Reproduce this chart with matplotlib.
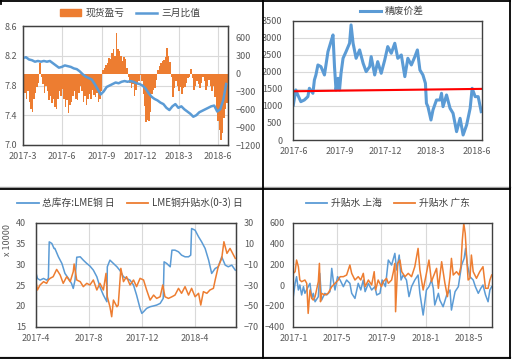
import matplotlib
matplotlib.use('Agg')
import matplotlib.pyplot as plt
import matplotlib.dates as mdates
import matplotlib.transforms as mtransforms
from matplotlib.ticker import FuncFormatter
from matplotlib.lines import Line2D
from matplotlib.patches import Patch
import pandas as pd

plt.rcParams['font.family'] = ['Noto Sans CJK SC', 'DejaVu Sans']

BLUE = '#5B9BD5'
ORANGE = '#ED7D31'
RED = '#FF0000'
GRID = '#D9D9D9'
TICK = '#595959'
SPINE = '#404040'

# ---------------- Panel 1: 现货盈亏 (bars, right axis, every 3.5 days) / 三月比值 (line, left axis, weekly)
p1_start = '2017-03-01'
p1_spot_pnl = [-200, -330, -420, -300, -480, -600, -640, -420, -320, -230,
               -150, 180, -60, -180, -320, -200, -300, -450, -380, -500,
               -420, -560, -600, -420, -300, -380, -260, -420, -560, -450,
               -670, -520, -480, -380, -300, -420, -450, -330, -200, -300,
               -480, -380, -520, -420, -350, -430, -280, -360, -400, -320,
               -480, -420, -300, 60, 100, 150, 180, 260, 250, 340,
               420, 300, 680, 420, 380, 300, 220, 280, 240, 100,
               -60, -150, -250, -180, -380, -280, -180, -120, -30, -120,
               -350, -550, -820, -780, -800, -650, -350, -280, -250, -100,
               60, 120, 180, 220, 230, 280, 430, 300, 200, -50,
               -400, -250, -120, -200, -300, -220, -350, -250, -220, -160,
               -80, -60, 70, -80, -280, -200, -120, -180, -240, -150,
               -60, -130, -280, -200, -100, -200, -300, -200, -400, -650,
               -800, -950, -1120, -1000, -750, -600, -500, -400]
p1_ratio = [8.17, 8.18, 8.15, 8.14, 8.12, 8.13, 8.12, 8.13, 8.12, 8.13,
            8.10, 8.07, 8.04, 8.05, 8.07, 8.06, 8.05, 8.03, 8.02, 7.99,
            7.95, 7.92, 7.90, 7.88, 7.82, 7.75, 7.68, 7.72, 7.78, 7.80,
            7.82, 7.84, 7.83, 7.85, 7.86, 7.85, 7.86, 7.85, 7.83, 7.82,
            7.80, 7.76, 7.70, 7.65, 7.62, 7.60, 7.57, 7.55, 7.50, 7.47,
            7.52, 7.55, 7.50, 7.52, 7.48, 7.45, 7.42, 7.38, 7.40, 7.44,
            7.46, 7.48, 7.50, 7.52, 7.53, 7.45, 7.48, 7.60, 7.82]
p1_left_ticks = [7.0, 7.4, 7.8, 8.2, 8.6]
p1_right_ticks = [-1200, -900, -600, -300, 0, 300, 600]
p1_bar_dates = pd.date_range(p1_start, periods=len(p1_spot_pnl), freq='84h')
p1_line_dates = pd.date_range(p1_start, periods=len(p1_ratio), freq='7D')

# ---------------- Panel 2: 精废价差
p2_dates = ['2017-06-01', '2017-06-06', '2017-06-10', '2017-06-16', '2017-06-23', '2017-06-30',
            '2017-07-03', '2017-07-10', '2017-07-13', '2017-07-16', '2017-07-20', '2017-07-26',
            '2017-08-02', '2017-08-05', '2017-08-09', '2017-08-15', '2017-08-19', '2017-08-22',
            '2017-08-25', '2017-08-29', '2017-09-01', '2017-09-04', '2017-09-08', '2017-09-14',
            '2017-09-21', '2017-09-24', '2017-09-28', '2017-10-04', '2017-10-11', '2017-10-18',
            '2017-10-24', '2017-10-31', '2017-11-03', '2017-11-10', '2017-11-16', '2017-11-23',
            '2017-11-30', '2017-12-06', '2017-12-13', '2017-12-20', '2017-12-26', '2018-01-02',
            '2018-01-09', '2018-01-15', '2018-01-22', '2018-01-29', '2018-02-03', '2018-02-08',
            '2018-02-14', '2018-02-19', '2018-02-21', '2018-02-24', '2018-03-02', '2018-03-06',
            '2018-03-13', '2018-03-20', '2018-03-23', '2018-03-26', '2018-04-02', '2018-04-09',
            '2018-04-15', '2018-04-22', '2018-04-29', '2018-05-05', '2018-05-12', '2018-05-19',
            '2018-05-23', '2018-05-29', '2018-06-04', '2018-06-10']
p2_spread = [1027, 1468, 1321, 1125, 1174, 1272,
             1517, 1370, 1761, 1908, 2201, 2153,
             1908, 2201, 2593, 2886, 3082, 2153,
             1468, 1810, 1468, 1957, 2397, 2593,
             2838, 3376, 2838, 2397, 2642, 2250,
             2006, 2153, 2446, 1908, 2299, 1957,
             2348, 2740, 2544, 2838, 2397, 2495,
             1859, 2397, 2201, 2446, 2642, 2055,
             1908, 1663, 1076, 978, 587, 880,
             1174, 1174, 1370, 978, 1321, 930,
             783, 245, 636, 147, 440, 930,
             1517, 1272, 1272, 832]
p2_ref_dates = ['2017-06-01', '2018-06-11']
p2_ref_values = [1430, 1500]

# ---------------- Panel 3: 总库存:LME铜 日 (left, x10000) / LME铜升贴水(0-3) 日 (right)
p3_stock_dates = ['2017-04-01', '2017-04-05', '2017-04-11', '2017-04-19', '2017-04-26', '2017-04-30',
                  '2017-05-02', '2017-05-08', '2017-05-13', '2017-05-15', '2017-05-23', '2017-05-31',
                  '2017-06-07', '2017-06-15', '2017-06-22', '2017-06-26', '2017-06-30', '2017-07-04',
                  '2017-07-12', '2017-07-19', '2017-07-27', '2017-08-03', '2017-08-11', '2017-08-19',
                  '2017-08-26', '2017-09-03', '2017-09-11', '2017-09-12', '2017-09-18', '2017-09-26',
                  '2017-10-04', '2017-10-11', '2017-10-19', '2017-10-26', '2017-11-03', '2017-11-11',
                  '2017-11-18', '2017-11-26', '2017-11-30', '2017-12-04', '2017-12-11', '2017-12-19',
                  '2017-12-27', '2018-01-03', '2018-01-11', '2018-01-18', '2018-01-20', '2018-01-26',
                  '2018-01-30', '2018-02-03', '2018-02-07', '2018-02-14', '2018-02-22', '2018-03-01',
                  '2018-03-09', '2018-03-17', '2018-03-22', '2018-03-24', '2018-04-01', '2018-04-09',
                  '2018-04-16', '2018-04-24', '2018-05-02', '2018-05-09', '2018-05-17', '2018-05-24',
                  '2018-06-01', '2018-06-09', '2018-06-16', '2018-06-24', '2018-07-02']
p3_stock = [28.2, 26.6, 26.2, 26.6, 26.2, 26.6,
            35.4, 35.0, 33.8, 33.8, 31.8, 30.2,
            27.8, 26.6, 25.4, 24.2, 26.2, 31.7,
            31.8, 31.0, 30.2, 29.6, 28.6, 27.0,
            24.6, 22.6, 21.0, 29.4, 31.0, 30.2,
            29.4, 28.5, 27.0, 26.6, 26.2, 25.0,
            22.6, 19.4, 18.2, 18.6, 19.4, 19.8,
            20.0, 20.2, 20.6, 21.8, 30.6, 30.2,
            29.8, 29.4, 33.4, 33.4, 33.0, 32.2,
            31.8, 31.8, 32.2, 38.6, 38.2, 36.6,
            35.4, 33.8, 31.0, 27.8, 29.0, 29.4,
            31.8, 29.8, 29.4, 29.8, 28.6]
p3_spread_dates = ['2017-04-01', '2017-04-05', '2017-04-11', '2017-04-19', '2017-04-26', '2017-04-30',
                   '2017-05-04', '2017-05-11', '2017-05-19', '2017-05-27', '2017-06-03', '2017-06-11',
                   '2017-06-19', '2017-06-26', '2017-06-28', '2017-07-04', '2017-07-12', '2017-07-19',
                   '2017-07-27', '2017-08-03', '2017-08-11', '2017-08-19', '2017-08-26', '2017-09-03',
                   '2017-09-09', '2017-09-12', '2017-09-18', '2017-09-22', '2017-09-26', '2017-10-04',
                   '2017-10-07', '2017-10-13', '2017-10-19', '2017-10-26', '2017-11-03', '2017-11-11',
                   '2017-11-18', '2017-11-26', '2017-12-04', '2017-12-11', '2017-12-19', '2017-12-27',
                   '2018-01-03', '2018-01-11', '2018-01-17', '2018-01-22', '2018-01-30', '2018-02-07',
                   '2018-02-14', '2018-02-22', '2018-03-01', '2018-03-09', '2018-03-17', '2018-03-24',
                   '2018-04-01', '2018-04-09', '2018-04-14', '2018-04-20', '2018-04-28', '2018-05-05',
                   '2018-05-13', '2018-05-17', '2018-05-24', '2018-06-01', '2018-06-06', '2018-06-13',
                   '2018-06-20', '2018-06-28', '2018-07-02']
p3_spread = [-25.1, -34.7, -29.9, -26.7, -28.3, -25.1,
             -23.5, -21.9, -14.9, -20.3, -28.3, -21.9,
             -26.7, -17.1, -9.7, -25.1, -26.7, -31.5,
             -28.3, -29.9, -25.1, -34.7, -28.3, -34.7,
             -18.7, -41.2, -50.8, -60.4, -44.4, -50.8,
             -49.2, -13.9, -26.7, -21.9, -29.9, -25.1,
             -31.5, -23.5, -25.1, -34.7, -44.4, -39.6,
             -42.8, -41.2, -29.9, -41.2, -42.8, -41.2,
             -39.6, -33.1, -37.9, -31.5, -39.6, -33.1,
             -41.2, -37.9, -49.2, -36.3, -37.9, -34.7,
             -33.1, -25.1, -12.3, -4.3, 11.7, 0.5,
             5.3, -1.1, -4.3]

# ---------------- Panel 4: 升贴水 上海 / 升贴水 广东
p4_sh_dates = ['2017-01-01', '2017-01-06', '2017-01-10', '2017-01-15', '2017-01-19', '2017-01-24',
               '2017-01-29', '2017-02-02', '2017-02-11', '2017-02-16', '2017-02-21', '2017-02-25',
               '2017-03-02', '2017-03-11', '2017-03-15', '2017-03-20', '2017-03-29', '2017-04-03',
               '2017-04-12', '2017-04-17', '2017-04-21', '2017-04-26', '2017-05-03', '2017-05-10',
               '2017-05-19', '2017-05-28', '2017-06-06', '2017-06-11', '2017-06-20', '2017-06-29',
               '2017-07-06', '2017-07-13', '2017-07-18', '2017-07-27', '2017-08-05', '2017-08-14',
               '2017-08-19', '2017-08-28', '2017-09-03', '2017-09-12', '2017-09-20', '2017-09-29',
               '2017-10-08', '2017-10-13', '2017-10-20', '2017-10-25', '2017-10-31', '2017-11-09',
               '2017-11-16', '2017-11-23', '2017-12-02', '2017-12-11', '2017-12-16', '2017-12-25',
               '2018-01-03', '2018-01-10', '2018-01-17', '2018-01-22', '2018-01-26', '2018-02-05',
               '2018-02-09', '2018-02-18', '2018-02-28', '2018-03-09', '2018-03-13', '2018-03-23',
               '2018-04-01', '2018-04-10', '2018-04-17', '2018-04-21', '2018-04-26', '2018-05-03',
               '2018-05-12', '2018-05-18', '2018-05-26', '2018-06-02', '2018-06-08', '2018-06-15',
               '2018-06-22', '2018-06-27', '2018-07-02']
p4_shanghai = [-111, 17, 81, -47, 1, -95,
               -15, -79, -15, 17, -128, -79,
               -160, -111, 113, -144, -79, -95,
               -63, 161, 49, -47, 81, 49,
               -15, 49, 17, -79, -128, 17,
               -47, 49, -63, 17, -47, -15,
               -95, -79, 49, -15, 241, 193,
               305, 145, 289, 49, 97, 49,
               -111, -15, 49, 97, -79, -288,
               -47, -15, 49, -31, -192, -79,
               -144, -208, -95, -47, -240, -63,
               -15, 193, 257, 353, 193, 81,
               49, -15, -79, -31, 1, -95,
               -160, -47, -15]
p4_gd_dates = ['2017-01-01', '2017-01-06', '2017-01-10', '2017-01-15', '2017-01-19', '2017-01-24',
               '2017-02-02', '2017-02-07', '2017-02-11', '2017-02-16', '2017-02-21', '2017-02-25',
               '2017-03-02', '2017-03-06', '2017-03-11', '2017-03-14', '2017-03-17', '2017-03-20',
               '2017-03-29', '2017-04-07', '2017-04-17', '2017-04-26', '2017-05-05', '2017-05-10',
               '2017-05-19', '2017-05-28', '2017-06-06', '2017-06-11', '2017-06-20', '2017-06-29',
               '2017-07-06', '2017-07-13', '2017-07-18', '2017-07-27', '2017-08-05', '2017-08-12',
               '2017-08-16', '2017-08-23', '2017-09-01', '2017-09-06', '2017-09-15', '2017-09-20',
               '2017-09-29', '2017-10-04', '2017-10-08', '2017-10-10', '2017-10-16', '2017-10-22',
               '2017-10-27', '2017-11-05', '2017-11-14', '2017-11-23', '2017-12-02', '2017-12-11',
               '2017-12-16', '2017-12-25', '2018-01-03', '2018-01-10', '2018-01-17', '2018-01-22',
               '2018-01-31', '2018-02-05', '2018-02-14', '2018-02-23', '2018-03-02', '2018-03-09',
               '2018-03-13', '2018-03-18', '2018-03-27', '2018-04-03', '2018-04-08', '2018-04-12',
               '2018-04-16', '2018-04-20', '2018-04-25', '2018-04-28', '2018-05-03', '2018-05-07',
               '2018-05-12', '2018-05-21', '2018-05-30', '2018-06-08', '2018-06-15', '2018-06-22',
               '2018-06-27', '2018-07-02']
p4_guangdong = [113, 129, 241, 177, 49, 33,
                49, 17, -272, -47, -128, -144,
                -111, -47, 33, 209, -160, -79,
                -95, -79, -15, 17, 49, 81,
                81, 97, 193, 113, 49, 81,
                49, 113, -15, 49, 1, 129,
                -47, 49, -15, 33, 65, 17,
                49, 129, 209, -256, 209, 241,
                129, 81, 113, 81, 177, 353,
                145, -47, 113, 241, 33, 81,
                161, -31, 225, 17, -111, 81,
                257, 97, 129, 97, 177, 433,
                593, 497, 209, 49, 65, 289,
                129, 65, 129, 177, -31, -31,
                49, 97]

W, H = 513, 362
fig = plt.figure(figsize=(W / 100, H / 100), dpi=100)


def rect(l, t, r, b):
    return [l / W, 1 - b / H, (r - l) / W, (b - t) / H]


def ym_fmt(x, pos=None):
    d = mdates.num2date(x)
    return f"{d.year}-{d.month}"


def style_axis(ax, months):
    ax.xaxis.set_major_locator(mdates.MonthLocator(bymonth=months))
    ax.xaxis.set_major_formatter(FuncFormatter(ym_fmt))
    ax.tick_params(length=0, labelsize=6.5, colors=TICK)
    for s in ax.spines.values():
        s.set_color(SPINE)
        s.set_linewidth(1.0)


def fig_legend(handles, labels, cx, cy, spacing=1.2):
    fig.legend(handles, labels, loc='center', bbox_to_anchor=(cx / W, 1 - cy / H),
               ncol=len(handles), frameon=False, fontsize=7, handlelength=2.2,
               columnspacing=spacing, handletextpad=0.4, labelcolor='#404040')


# ---- Panel 1
ax1b = fig.add_axes(rect(23, 26, 228.3, 145))
ax1l = ax1b.twinx()
ax1l.set_ylim(7.0, 8.6)
ax1b.set_ylim(-1200, 800)
ax1b.set_xlim(pd.Timestamp('2017-03-01'), pd.Timestamp('2018-06-25'))
# horizontal gridlines follow the left (ratio) axis, but sit behind the bars
grid_tr = mtransforms.blended_transform_factory(ax1b.transAxes, ax1l.transData)
for v in p1_left_ticks[1:-1]:
    ax1b.add_line(Line2D([0, 1], [v, v], transform=grid_tr, color=GRID, lw=0.8, zorder=0.5))
ax1b.bar(p1_bar_dates, p1_spot_pnl, width=3.5, align='edge', color=ORANGE, linewidth=0, zorder=2)
ax1b.set_yticks(p1_right_ticks)
ax1b.yaxis.tick_right()
style_axis(ax1b, [3, 6, 9, 12])
ax1b.tick_params(axis='y', pad=5)
ax1b.tick_params(axis='x', pad=5)
ax1b.grid(axis='x', color=GRID, lw=0.8)
ax1b.set_axisbelow(True)
ax1l.plot(p1_line_dates, p1_ratio, color=BLUE, lw=1.8)
ax1l.set_yticks(p1_left_ticks)
ax1l.yaxis.set_major_formatter(FuncFormatter(lambda v, p: f"{v:.1f}"))
ax1l.yaxis.tick_left()
ax1l.tick_params(axis='y', length=0, labelsize=6.5, colors=TICK, pad=4)
for s in ax1l.spines.values():
    s.set_color(SPINE)
fig_legend([Patch(color=ORANGE), Line2D([], [], color=BLUE, lw=1.8)], ['现货盈亏', '三月比值'], 130, 13)

# ---- Panel 2
ax2 = fig.add_axes(rect(293.3, 20.7, 481.7, 140))
ax2.plot(pd.to_datetime(p2_dates), p2_spread, color=BLUE, lw=2.2)
ax2.plot(pd.to_datetime(p2_ref_dates), p2_ref_values, color=RED, lw=1.5)
ax2.set_ylim(0, 3500)
ax2.set_yticks(range(0, 3501, 500))
ax2.set_xlim(pd.Timestamp('2017-06-01'), pd.Timestamp('2018-06-11'))
style_axis(ax2, [3, 6, 9, 12])
ax2.tick_params(axis='y', pad=8)
ax2.tick_params(axis='x', pad=5)
ax2.grid(axis='y', color=GRID, lw=0.8)
ax2.set_axisbelow(True)
fig_legend([Line2D([], [], color=BLUE, lw=2.2)], ['精废价差'], 392, 11)

# ---- Panel 3
ax3 = fig.add_axes(rect(35.7, 222.7, 235.7, 326.7))
ax3r = ax3.twinx()
ax3.plot(pd.to_datetime(p3_stock_dates), p3_stock, color=BLUE, lw=1.1)
ax3.set_ylim(15, 40)
ax3.set_yticks(range(15, 41, 5))
ax3.set_xlim(pd.Timestamp('2017-04-01'), pd.Timestamp('2018-07-03'))
style_axis(ax3, [4, 8, 12])
ax3.tick_params(axis='y', pad=7)
ax3.tick_params(axis='x', pad=5)
ax3.grid(color=GRID, lw=0.8)
ax3.set_axisbelow(True)
ax3r.plot(pd.to_datetime(p3_spread_dates), p3_spread, color=ORANGE, lw=1.1)
ax3r.set_ylim(-70, 30)
ax3r.set_yticks(range(-70, 31, 20))
ax3r.tick_params(axis='y', length=0, labelsize=6.5, colors=TICK, pad=6)
for s in ax3r.spines.values():
    s.set_color(SPINE)
fig.text(8 / W, 1 - 240 / H, 'x 10000', rotation=90, ha='center', va='center', fontsize=6.5, color=TICK)
fig_legend([Line2D([], [], color=BLUE, lw=1.3), Line2D([], [], color=ORANGE, lw=1.3)],
           ['总库存:LME铜 日', 'LME铜升贴水(0-3) 日'], 130, 203)

# ---- Panel 4
ax4 = fig.add_axes(rect(293.3, 222.7, 491.7, 326.7))
ax4.plot(pd.to_datetime(p4_sh_dates), p4_shanghai, color=BLUE, lw=1.1)
ax4.plot(pd.to_datetime(p4_gd_dates), p4_guangdong, color=ORANGE, lw=1.1)
ax4.set_ylim(-400, 600)
ax4.set_yticks(range(-400, 601, 200))
ax4.set_xlim(pd.Timestamp('2017-01-01'), pd.Timestamp('2018-07-02'))
style_axis(ax4, [1, 5, 9])
ax4.tick_params(axis='y', pad=6)
ax4.tick_params(axis='x', pad=5)
ax4.grid(color=GRID, lw=0.8)
ax4.set_axisbelow(True)
fig_legend([Line2D([], [], color=BLUE, lw=1.3), Line2D([], [], color=ORANGE, lw=1.3)],
           ['升贴水 上海', '升贴水 广东'], 388, 203)


# ---- panel borders
def hline(y, x0, x1, color='black', lw=1.3):
    fig.add_artist(Line2D([x0 / W, x1 / W], [1 - y / H, 1 - y / H], transform=fig.transFigure, color=color, lw=lw))


def vline(x, y0, y1, color='black', lw=1.3):
    fig.add_artist(Line2D([x / W, x / W], [1 - y0 / H, 1 - y1 / H], transform=fig.transFigure, color=color, lw=lw))


hline(0.6, 0, 510)
hline(187, 0, 510, color='#A0A0A0', lw=1.0)
hline(188.5, 0, 510)
hline(356.5, 0, 510, color='#A0A0A0', lw=1.0)
hline(358, 0, 510)
vline(263, 0, 358)
vline(510, 0, 358)
vline(0.6, 0, 4)

fig.savefig('out.png', dpi=100)
